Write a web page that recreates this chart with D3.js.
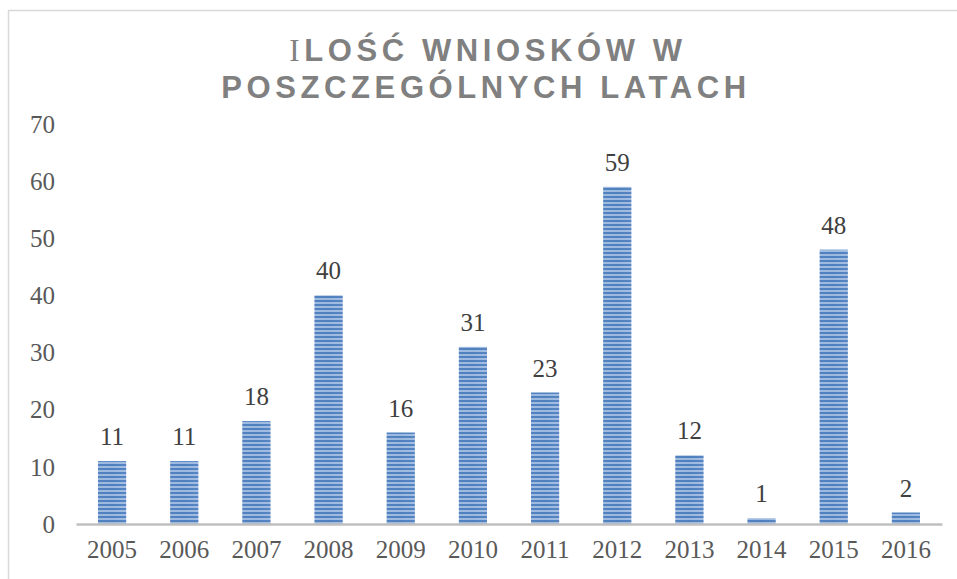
<!DOCTYPE html>
<html>
<head>
<meta charset="utf-8">
<script src="https://cdn.jsdelivr.net/npm/d3@7"></script>
<style>
  body { margin: 0; background: #fff; }
  svg { display: block; }
</style>
</head>
<body>
<svg id="chart" width="957" height="579"></svg>
<script>
const years = ["2005", "2006", "2007", "2008", "2009", "2010", "2011", "2012", "2013", "2014", "2015", "2016"];
const counts = [11, 11, 18, 40, 16, 31, 23, 59, 12, 1, 48, 2];
const yTicks = [0, 10, 20, 30, 40, 50, 60, 70];
const titleLines = ["ILOŚĆ WNIOSKÓW W", "POSZCZEGÓLNYCH LATACH"];

const serif = "'Liberation Serif', 'Times New Roman', serif";

const svg = d3.select("#chart");

// outer frame of the chart area (runs off the right and bottom edge)
svg.append("rect")
    .attr("x", 8.5).attr("y", 10.5)
    .attr("width", 960).attr("height", 600)
    .attr("fill", "none")
    .attr("stroke", "#d9d9d9")
    .attr("stroke-width", 1.5);

const defs = svg.append("defs");
const grad = defs.append("linearGradient").attr("id", "barGrad")
    .attr("x1", 0).attr("x2", 1).attr("y1", 0).attr("y2", 0);
grad.append("stop").attr("offset", "0%").attr("stop-color", "#5b87c2");
grad.append("stop").attr("offset", "50%").attr("stop-color", "#4f81bd");
grad.append("stop").attr("offset", "100%").attr("stop-color", "#6a93c9");

const pat = defs.append("pattern").attr("id", "stripes")
    .attr("patternUnits", "userSpaceOnUse")
    .attr("width", 4).attr("height", 4);
pat.append("rect").attr("width", 4).attr("height", 4).attr("fill", "#bcd0ec");
pat.append("rect").attr("width", 4).attr("height", 2).attr("fill", "#4f7fbf");

const x = d3.scaleBand()
    .domain(years)
    .range([76, 942])
    .paddingInner(0.61)
    .paddingOuter(0.305);

const y = d3.scaleLinear()
    .domain([0, 70])
    .range([524, 124]);

// title
const title = svg.append("text")
    .attr("text-anchor", "middle")
    .attr("fill", "#808080")
    .attr("font-family", "'Liberation Sans', Arial, sans-serif")
    .attr("font-weight", "bold")
    .attr("font-size", 31)
    .attr("letter-spacing", 4.6);
title.append("tspan")
    .attr("x", 488).attr("y", 61)
    .attr("font-family", serif)
    .attr("font-weight", "normal")
    .text(titleLines[0][0]);
title.append("tspan").text(titleLines[0].slice(1));
title.append("tspan")
    .attr("x", 486).attr("y", 98)
    .text(titleLines[1]);

// y axis labels
const yAxis = svg.append("g")
    .attr("transform", "translate(55,0)")
    .call(d3.axisLeft(y).tickValues(yTicks).tickSize(0).tickPadding(0));
yAxis.attr("font-family", null);
yAxis.select(".domain").remove();
yAxis.selectAll("text")
    .attr("font-family", serif)
    .attr("font-size", 25)
    .attr("fill", "#595959")
    .attr("dy", "0.33em");

// bars
svg.append("g").selectAll("rect.bar")
    .data(counts)
    .join("rect")
    .attr("class", "bar")
    .attr("x", (d, i) => x(years[i]))
    .attr("y", d => y(d))
    .attr("width", x.bandwidth())
    .attr("height", d => y(0) - y(d))
    .attr("fill", "url(#stripes)");

svg.append("g").selectAll("rect.shade")
    .data(counts)
    .join("rect")
    .attr("class", "shade")
    .attr("x", (d, i) => x(years[i]))
    .attr("y", d => y(d))
    .attr("width", x.bandwidth())
    .attr("height", d => y(0) - y(d))
    .attr("fill", "url(#barGrad)")
    .attr("opacity", 0.3);

// x axis
const xAxis = svg.append("g")
    .attr("transform", `translate(0,${y(0)})`)
    .call(d3.axisBottom(x).tickSize(0).tickPadding(16));
xAxis.attr("font-family", null);
xAxis.select(".domain")
    .attr("stroke", "#bfbfbf")
    .attr("stroke-width", 2.5);
xAxis.selectAll("text")
    .attr("font-family", serif)
    .attr("font-size", 25)
    .attr("fill", "#595959");

// data labels
svg.append("g").selectAll("text")
    .data(counts)
    .join("text")
    .attr("x", (d, i) => x(years[i]) + x.bandwidth() / 2)
    .attr("y", d => y(d) - 16)
    .attr("text-anchor", "middle")
    .attr("font-family", serif)
    .attr("font-size", 25)
    .attr("fill", "#404040")
    .text(d => d);
</script>
</body>
</html>
